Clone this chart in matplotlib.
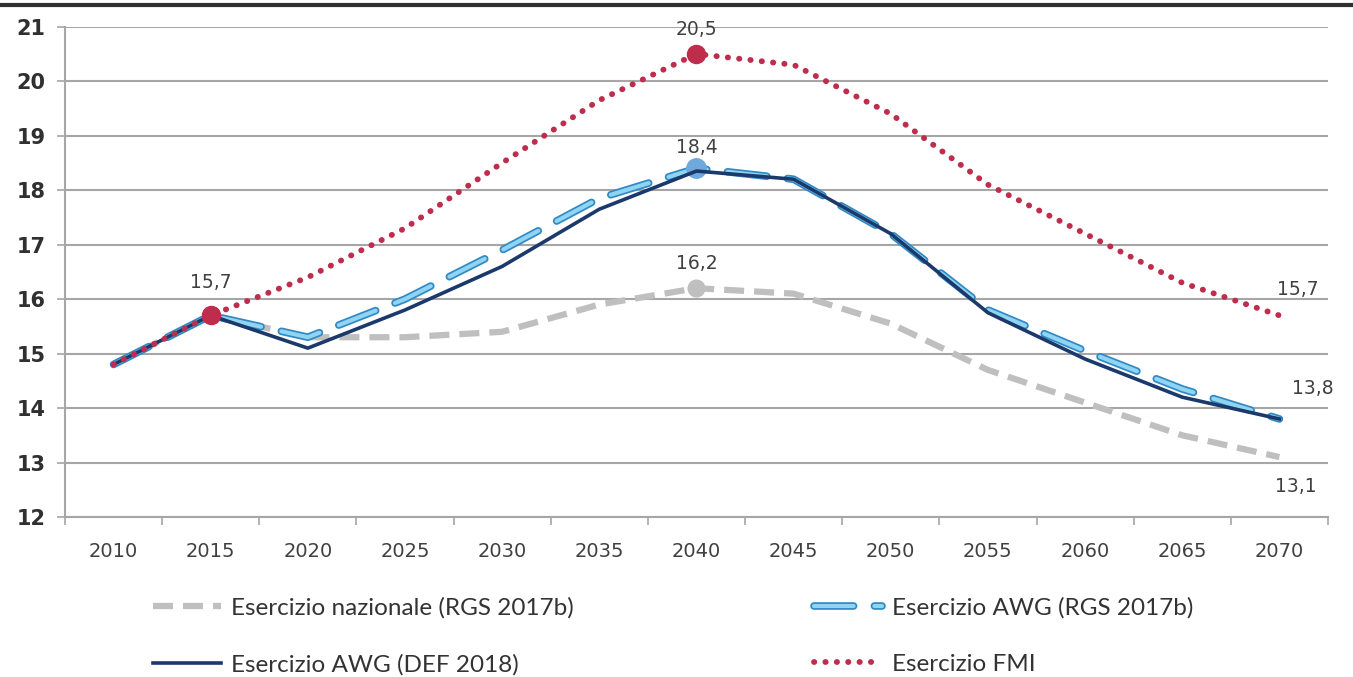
import matplotlib
matplotlib.use("Agg")
import matplotlib.pyplot as plt
import matplotlib.patheffects as pe
from matplotlib.lines import Line2D

years = [2010, 2015, 2020, 2025, 2030, 2035, 2040, 2045, 2050, 2055, 2060, 2065, 2070]
year_labels = [str(y) for y in years]

nazionale_rgs = [14.8, 15.7, 15.3, 15.3, 15.4, 15.9, 16.2, 16.1, 15.55, 14.7, 14.1, 13.5, 13.1]
awg_rgs = [14.8, 15.7, 15.3, 16.0, 16.9, 17.85, 18.4, 18.2, 17.2, 15.8, 15.05, 14.35, 13.8]
awg_def = [14.8, 15.7, 15.1, 15.8, 16.6, 17.65, 18.35, 18.2, 17.2, 15.75, 14.9, 14.2, 13.8]
fmi = [14.8, 15.7, 16.4, 17.3, 18.5, 19.65, 20.5, 20.3, 19.4, 18.1, 17.2, 16.3, 15.7]

y_ticks = list(range(12, 22))

C_GRAY = "#BFBFBF"
C_LIGHT = "#8FD5F3"
C_LIGHT_EDGE = "#3189C4"
C_NAVY = "#1B3A6B"
C_RED = "#BE2D4C"
C_TEXT = "#404040"

fig = plt.figure(figsize=(13.53, 6.77), dpi=100)
ax = fig.add_axes([0.048, 0.2363, 0.9335, 0.7243])

x = list(range(len(years)))

# series
ln_naz, = ax.plot(x, nazionale_rgs, color=C_GRAY, lw=4.5, linestyle=(0, (3.2, 1.6)),
                  dash_capstyle="butt", zorder=3, label="Esercizio nazionale (RGS 2017b)")
ln_rgs, = ax.plot(x, awg_rgs, color=C_LIGHT, lw=3.0, linestyle=(0, (9.5, 5.0)),
                  dash_capstyle="round", zorder=4, label="Esercizio AWG (RGS 2017b)",
                  path_effects=[pe.Stroke(linewidth=5.5, foreground=C_LIGHT_EDGE), pe.Normal()])
ln_def, = ax.plot(x, awg_def, color=C_NAVY, lw=2.6, zorder=5, label="Esercizio AWG (DEF 2018)")
ln_fmi, = ax.plot(x, fmi, color=C_RED, lw=4.2, linestyle=(0, (0.05, 1.9)),
                  dash_capstyle="round", zorder=6, label="Esercizio FMI")

i15 = years.index(2015)
i40 = years.index(2040)
i70 = years.index(2070)

# highlighted points
ax.plot(x[i15], fmi[i15], "o", color=C_RED, ms=13, zorder=7)
ax.plot(x[i40], fmi[i40], "o", color=C_RED, ms=13, zorder=7)
ax.plot(x[i40], awg_rgs[i40], "o", color="#6FA8DC", ms=14, zorder=4.5)
ax.plot(x[i40], nazionale_rgs[i40], "o", color=C_GRAY, ms=12, zorder=3.5)


def fmt(v):
    return f"{v:.1f}".replace(".", ",")


lbl = dict(fontsize=13.5, color=C_TEXT, zorder=8)
ax.annotate(fmt(fmi[i15]), (x[i15], fmi[i15]), xytext=(0, 17), textcoords="offset points",
            ha="center", va="bottom", **lbl)
ax.annotate(fmt(fmi[i40]), (x[i40], fmi[i40]), xytext=(0, 11), textcoords="offset points",
            ha="center", va="bottom", **lbl)
ax.annotate(fmt(awg_rgs[i40]), (x[i40], awg_rgs[i40]), xytext=(0, 8), textcoords="offset points",
            ha="center", va="bottom", **lbl)
ax.annotate(fmt(nazionale_rgs[i40]), (x[i40], nazionale_rgs[i40]), xytext=(0, 11),
            textcoords="offset points", ha="center", va="bottom", **lbl)
ax.annotate(fmt(fmi[i70]), (x[i70], fmi[i70]), xytext=(-2, 12), textcoords="offset points",
            ha="left", va="bottom", **lbl)
ax.annotate(fmt(awg_rgs[i70]), (x[i70], awg_rgs[i70]), xytext=(9, 15), textcoords="offset points",
            ha="left", va="bottom", **lbl)
ax.annotate(fmt(nazionale_rgs[i70]), (x[i70], nazionale_rgs[i70]), xytext=(12, -14),
            textcoords="offset points", ha="center", va="top", **lbl)

# axes
ax.set_xlim(-0.5, len(years) - 0.5)
ax.set_ylim(12, 21)
ax.set_yticks(y_ticks)
ax.set_yticklabels([str(v) for v in y_ticks])
ax.set_xticks([i - 0.5 for i in range(len(years) + 1)])
ax.set_xticklabels([])
ax.set_xticks(x, minor=True)
ax.set_xticklabels(year_labels, minor=True)
ax.tick_params(axis="x", which="major", length=6, width=1.2, color="#A6A6A6", direction="out")
ax.tick_params(axis="x", which="minor", length=0, pad=18, labelsize=14, labelcolor=C_TEXT)
ax.tick_params(axis="y", length=6, width=1.2, color="#A6A6A6", pad=8, labelsize=15,
               labelcolor="#303030")
for t in ax.get_yticklabels():
    t.set_fontweight("bold")

ax.grid(axis="y", color="#A6A6A6", lw=1.5, zorder=0)
ax.set_axisbelow(True)
for s in ["top", "right"]:
    ax.spines[s].set_visible(False)
for s in ["left", "bottom"]:
    ax.spines[s].set_color("#A6A6A6")
    ax.spines[s].set_linewidth(1.5)

# rule across the top of the figure
fig.add_artist(Line2D([0, 1], [0.992, 0.992], transform=fig.transFigure, color="#303030", lw=3))

leg = fig.legend(handles=[ln_naz, ln_def, ln_rgs, ln_fmi], ncol=2, loc="upper left",
                 bbox_to_anchor=(0.113, 0.118), frameon=False, handlelength=2.8,
                 handletextpad=0.4, columnspacing=9.9, labelspacing=1.45,
                 prop={"family": "Lato", "size": 17.5}, borderaxespad=0, borderpad=0)
for t in leg.get_texts():
    t.set_color("#333333")

fig.savefig("out.png", dpi=100)
